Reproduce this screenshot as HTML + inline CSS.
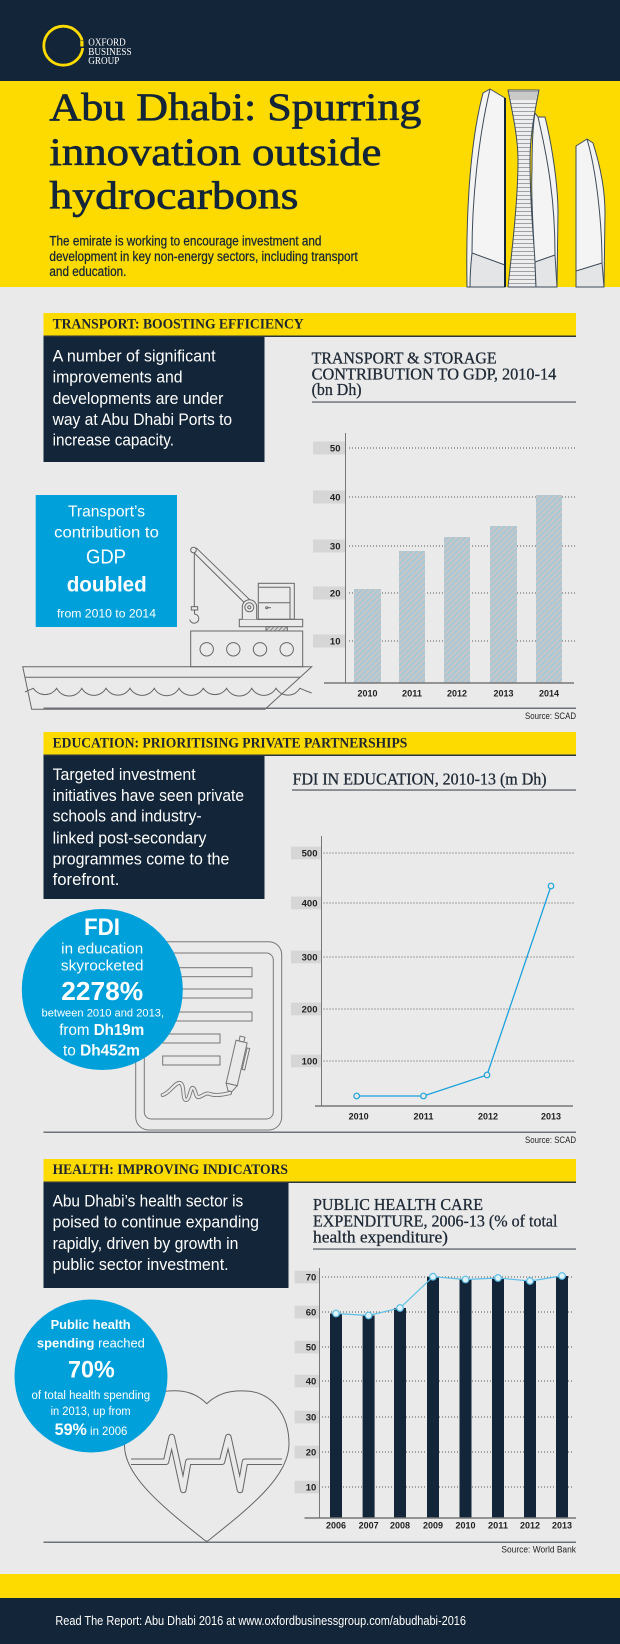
<!DOCTYPE html>
<html><head><meta charset="utf-8"><style>
html,body{margin:0;padding:0;background:#eaeaea;}
svg{display:block;}
</style></head><body>
<svg width="620" height="1644" viewBox="0 0 620 1644" xmlns="http://www.w3.org/2000/svg">
<defs>
<pattern id="hatch" width="4" height="4" patternUnits="userSpaceOnUse" patternTransform="rotate(45)">
<rect width="4" height="4" fill="#c3c7ca"/>
<line x1="1" y1="0" x2="1" y2="4" stroke="#8fc8e0" stroke-width="0.9"/>
</pattern>
<pattern id="ladder" width="10" height="4" patternUnits="userSpaceOnUse">
<rect width="10" height="4" fill="#ededed"/>
<line x1="0" y1="3.5" x2="10" y2="3.5" stroke="#8a9096" stroke-width="0.8"/>
</pattern>
<pattern id="dhatch" width="3" height="3" patternUnits="userSpaceOnUse" patternTransform="rotate(45)">
<rect width="3" height="3" fill="#d8d8d8"/>
<line x1="1" y1="0" x2="1" y2="3" stroke="#777" stroke-width="0.8"/>
</pattern>
</defs>
<rect width="620" height="1644" fill="#eaeaea"/>

<!-- HEADER -->
<rect x="0" y="0" width="620" height="81" fill="#132538"/>
<rect x="0" y="81" width="620" height="206" fill="#fedb00"/>
<circle cx="63.3" cy="45.7" r="19.5" fill="none" stroke="#fedb00" stroke-width="2.8"/>
<rect x="81" y="40" width="5" height="8" fill="#132538"/>
<rect x="80.3" y="40.5" width="3.2" height="6" fill="#fedb00"/>
<g font-family="Liberation Serif, serif" font-size="10" fill="#ffffff">
<text x="88.3" y="45.7" textLength="37.4" lengthAdjust="spacingAndGlyphs">OXFORD</text>
<text x="88.3" y="55" textLength="43.3" lengthAdjust="spacingAndGlyphs">BUSINESS</text>
<text x="88.3" y="64.1" textLength="31" lengthAdjust="spacingAndGlyphs">GROUP</text>
</g>
<g font-family="Liberation Serif, serif" font-size="39" fill="#132538" stroke="#132538" stroke-width="0.7">
<text x="49.4" y="120" textLength="372" lengthAdjust="spacingAndGlyphs">Abu Dhabi: Spurring</text>
<text x="49.4" y="165" textLength="332" lengthAdjust="spacingAndGlyphs">innovation outside</text>
<text x="49.4" y="208.3" textLength="249" lengthAdjust="spacingAndGlyphs">hydrocarbons</text>
</g>
<g font-family="Liberation Sans, sans-serif" font-size="13.5" fill="#132538" stroke="#132538" stroke-width="0.25">
<text x="49.4" y="245.7" textLength="272" lengthAdjust="spacingAndGlyphs">The emirate is working to encourage investment and</text>
<text x="49.4" y="261" textLength="308.4" lengthAdjust="spacingAndGlyphs">development in key non-energy sectors, including transport</text>
<text x="49.4" y="276" textLength="77" lengthAdjust="spacingAndGlyphs">and education.</text>
</g>

<!-- Towers -->
<g stroke="#3d4b59" stroke-width="1" stroke-linejoin="round">
<path d="M483,93 L490,89 L505,98 L505,287 L467,287 C466,230 468,150 483,93 Z" fill="#f4f4f4"/>
<path d="M472,253 L505,265 L505,287 L470,287 C470,275 471,262 472,253 Z" fill="#e4e5e7"/>
<path d="M490,89 C478,140 472,200 472,253" fill="none"/>
<line x1="505" y1="98" x2="505" y2="287" stroke="#132538" stroke-width="2"/>
<path d="M508,90 L539,90 C533,120 530,140 530,160 C530,200 534,250 538,287 L508,287 C512,250 518,200 518,160 C518,140 514,120 508,90 Z" fill="url(#ladder)"/>
<path d="M509,92 L538,92 L536,100 L511,100 Z" fill="#c9c9c9" stroke="none"/>
<path d="M535,113 L538,117 L545,117 C552,145 558,185 558,213 L557,287 L536,287 L535,262 C533,230 531,190 532,170 C532,150 533,125 535,113 Z" fill="#f4f4f4"/>
<path d="M535,262 L555,255 L557,287 L536,287 Z" fill="#e4e5e7"/>
<path d="M538,117 C548,160 555,200 555,255" fill="none"/>
<path d="M576,146 L587,139 L593,143 C600,165 605,190 605,213 L604,287 L576,287 Z" fill="#f4f4f4"/>
<path d="M576,271 L602,263 L604,287 L576,287 Z" fill="#e4e5e7"/>
<path d="M587,139 C596,170 602,220 602,263" fill="none"/>
</g>

<!-- SECTION BANDS -->
<g font-family="Liberation Serif, serif" font-weight="bold" font-size="15" fill="#1d2530">
<rect x="43.5" y="313" width="532.5" height="23" fill="#fedb00"/>
<rect x="43.5" y="335.5" width="532.5" height="1.5" fill="#2b3440"/>
<text x="52.6" y="328.5" textLength="251" lengthAdjust="spacingAndGlyphs">TRANSPORT: BOOSTING EFFICIENCY</text>
<rect x="43.5" y="732" width="532.5" height="23" fill="#fedb00"/>
<rect x="43.5" y="754.5" width="532.5" height="1.5" fill="#2b3440"/>
<text x="52.6" y="747.5" textLength="354.7" lengthAdjust="spacingAndGlyphs">EDUCATION: PRIORITISING PRIVATE PARTNERSHIPS</text>
<rect x="43.5" y="1159" width="532.5" height="23" fill="#fedb00"/>
<rect x="43.5" y="1181.5" width="532.5" height="1.5" fill="#2b3440"/>
<text x="52.6" y="1174" textLength="235.3" lengthAdjust="spacingAndGlyphs">HEALTH: IMPROVING INDICATORS</text>
</g>

<!-- DARK BOXES -->
<rect x="43.5" y="337" width="221" height="125" fill="#132538"/>
<rect x="43.5" y="756" width="221" height="143" fill="#132538"/>
<rect x="43.5" y="1183" width="245" height="105" fill="#132538"/>
<g font-family="Liberation Sans, sans-serif" font-size="17" fill="#ffffff">
<text x="52.6" y="361.7" textLength="163" lengthAdjust="spacingAndGlyphs">A number of significant</text>
<text x="52.6" y="382.7" textLength="130" lengthAdjust="spacingAndGlyphs">improvements and</text>
<text x="52.6" y="404" textLength="170.8" lengthAdjust="spacingAndGlyphs">developments are under</text>
<text x="52.6" y="425" textLength="179.5" lengthAdjust="spacingAndGlyphs">way at Abu Dhabi Ports to</text>
<text x="52.6" y="445.7" textLength="121.4" lengthAdjust="spacingAndGlyphs">increase capacity.</text>

<text x="52.6" y="780" textLength="143.1" lengthAdjust="spacingAndGlyphs">Targeted investment</text>
<text x="52.6" y="801" textLength="191.4" lengthAdjust="spacingAndGlyphs">initiatives have seen private</text>
<text x="52.6" y="821.7" textLength="149" lengthAdjust="spacingAndGlyphs">schools and industry-</text>
<text x="52.6" y="843.3" textLength="153.8" lengthAdjust="spacingAndGlyphs">linked post-secondary</text>
<text x="52.6" y="864.3" textLength="176.7" lengthAdjust="spacingAndGlyphs">programmes come to the</text>
<text x="52.6" y="885" textLength="66.8" lengthAdjust="spacingAndGlyphs">forefront.</text>

<text x="52.6" y="1206.7" textLength="190.6" lengthAdjust="spacingAndGlyphs">Abu Dhabi’s health sector is</text>
<text x="52.6" y="1227.7" textLength="206.4" lengthAdjust="spacingAndGlyphs">poised to continue expanding</text>
<text x="52.6" y="1249" textLength="185.8" lengthAdjust="spacingAndGlyphs">rapidly, driven by growth in</text>
<text x="52.6" y="1270" textLength="176" lengthAdjust="spacingAndGlyphs">public sector investment.</text>
</g>

<!-- CHART TITLES -->
<g font-family="Liberation Serif, serif" font-size="17" fill="#1f2a36" stroke="#1f2a36" stroke-width="0.3">
<text x="311.6" y="363.3" textLength="185" lengthAdjust="spacingAndGlyphs">TRANSPORT &amp; STORAGE</text>
<text x="311.6" y="379.3" textLength="244.7" lengthAdjust="spacingAndGlyphs">CONTRIBUTION TO GDP, 2010-14</text>
<text x="311.6" y="395" textLength="50" lengthAdjust="spacingAndGlyphs">(bn Dh)</text>
<text x="292.6" y="784.3" textLength="254" lengthAdjust="spacingAndGlyphs">FDI IN EDUCATION, 2010-13 (m Dh)</text>
<text x="313" y="1210" textLength="170" lengthAdjust="spacingAndGlyphs">PUBLIC HEALTH CARE</text>
<text x="313" y="1226.7" textLength="244.5" lengthAdjust="spacingAndGlyphs">EXPENDITURE, 2006-13 (% of total</text>
<text x="313" y="1242.7" textLength="135" lengthAdjust="spacingAndGlyphs">health expenditure)</text>
</g>
<rect x="312" y="401.3" width="264" height="1.5" fill="#6f757b"/>
<rect x="292" y="789.3" width="284" height="1.5" fill="#6f757b"/>
<rect x="313" y="1248.3" width="263" height="1.5" fill="#6f757b"/>

<!-- TRANSPORT CHART -->
<g>
<g fill="#d6d6d6">
<rect x="313" y="441.5" width="32" height="13"/>
<rect x="313" y="490.5" width="32" height="13"/>
<rect x="313" y="539.5" width="32" height="13"/>
<rect x="313" y="586.5" width="32" height="13"/>
<rect x="313" y="634.5" width="32" height="13"/>
</g>
<g stroke="#555" stroke-width="1" stroke-dasharray="1 2">
<line x1="349" y1="448" x2="577" y2="448"/>
<line x1="349" y1="497" x2="577" y2="497"/>
<line x1="349" y1="546" x2="577" y2="546"/>
<line x1="349" y1="593" x2="577" y2="593"/>
<line x1="349" y1="641" x2="577" y2="641"/>
</g>
<g fill="url(#hatch)">
<rect x="354" y="589" width="27" height="94"/>
<rect x="399" y="551" width="26" height="132"/>
<rect x="444" y="537" width="26" height="146"/>
<rect x="490" y="526" width="27" height="157"/>
<rect x="536" y="495" width="26" height="188"/>
</g>
<line x1="345.5" y1="433" x2="345.5" y2="683" stroke="#777" stroke-width="1"/>
<line x1="324" y1="683" x2="574" y2="683" stroke="#777" stroke-width="1.5"/>
<g font-family="Liberation Sans, sans-serif" font-weight="bold" font-size="9.5" fill="#222" text-anchor="end">
<text x="340.5" y="451.4">50</text>
<text x="340.5" y="500.4">40</text>
<text x="340.5" y="549.4">30</text>
<text x="340.5" y="596.4">20</text>
<text x="340.5" y="644.4">10</text>
</g>
<g font-family="Liberation Sans, sans-serif" font-weight="bold" font-size="9.5" fill="#222" text-anchor="middle">
<text x="367.5" y="696.5" textLength="20" lengthAdjust="spacingAndGlyphs">2010</text>
<text x="412" y="696.5" textLength="20" lengthAdjust="spacingAndGlyphs">2011</text>
<text x="457" y="696.5" textLength="20" lengthAdjust="spacingAndGlyphs">2012</text>
<text x="503.5" y="696.5" textLength="20" lengthAdjust="spacingAndGlyphs">2013</text>
<text x="549" y="696.5" textLength="20" lengthAdjust="spacingAndGlyphs">2014</text>
</g>
</g>
<rect x="43.5" y="707.5" width="532.5" height="1.5" fill="#6e7378"/>
<text x="576" y="719" font-family="Liberation Sans, sans-serif" font-size="9" fill="#222" text-anchor="end" textLength="51" lengthAdjust="spacingAndGlyphs">Source: SCAD</text>

<!-- SHIP -->
<g fill="none" stroke="#666" stroke-width="1">
<path d="M22.7,666.7 L311.7,666.7 L265,709.3 L31.7,709.3 Z"/>
<line x1="25" y1="677.3" x2="300" y2="677.3"/>
<path d="M25,692 Q29,690 33.3,688.3 a14,14 0 0 0 23.4,0 a14,14 0 0 0 25,0 a14,14 0 0 0 24.3,0 a14,14 0 0 0 24,0 a14,14 0 0 0 24.3,0 a14,14 0 0 0 24.7,0 a14,14 0 0 0 24.3,0 a14,14 0 0 0 23.4,0 a14,14 0 0 0 25,0 a14,14 0 0 0 24.3,0 a14,14 0 0 0 24,0 Q306,691 311.7,693"/>
<rect x="190.7" y="631" width="112" height="35.7"/>
<circle cx="206.7" cy="649.3" r="6.7"/>
<circle cx="233.3" cy="649.3" r="6.7"/>
<circle cx="260" cy="649.3" r="6.7"/>
<circle cx="286.7" cy="649.3" r="6.7"/>
<rect x="239.3" y="619.3" width="63.4" height="7.4"/>
<rect x="266" y="626.7" width="21.3" height="4.3" fill="url(#dhatch)"/>
<rect x="258.3" y="583.3" width="36" height="36"/>
<line x1="290" y1="587.3" x2="290" y2="619.3"/>
<line x1="259" y1="587.3" x2="290" y2="587.3"/>
<line x1="259" y1="602.7" x2="290" y2="602.7"/>
<circle cx="266.7" cy="607.7" r="1"/>
<line x1="267.7" y1="607.7" x2="271" y2="607.7"/>
<line x1="191.7" y1="550.5" x2="246.7" y2="605"/>
<line x1="196.2" y1="547.8" x2="251.7" y2="601.7"/>
<circle cx="193.5" cy="550" r="2.8" fill="#eaeaea"/>
<path d="M242.3,619.3 L242.3,607 A7.2,7.2 0 0 1 256.7,607 L256.7,619.3" fill="#eaeaea"/>
<circle cx="249.3" cy="607.3" r="4.5" fill="#eaeaea"/>
<circle cx="249.3" cy="607.3" r="1.6"/>
<line x1="194.3" y1="553" x2="194.3" y2="606.7"/>
<rect x="191.3" y="606.7" width="6.4" height="3.3"/>
<path d="M194.5,610 L194.5,614 A4.6,4.6 0 1 1 189.7,619.5"/>
</g>
<rect x="35.7" y="495" width="141.3" height="132" fill="#00a0db"/>
<g font-family="Liberation Sans, sans-serif" fill="#ffffff" text-anchor="middle">
<text x="106.5" y="516.7" font-size="16" textLength="77" lengthAdjust="spacingAndGlyphs">Transport’s</text>
<text x="106.5" y="537.3" font-size="16" textLength="104.7" lengthAdjust="spacingAndGlyphs">contribution to</text>
<text x="106" y="563.3" font-size="20" textLength="40" lengthAdjust="spacingAndGlyphs">GDP</text>
<text x="106.7" y="591.7" font-size="21" font-weight="bold" textLength="80" lengthAdjust="spacingAndGlyphs">doubled</text>
<text x="106.5" y="617.7" font-size="12" textLength="99" lengthAdjust="spacingAndGlyphs">from 2010 to 2014</text>
</g>

<!-- EDUCATION CHART -->
<g>
<g fill="#d6d6d6">
<rect x="291" y="846.6" width="30.5" height="12.7"/>
<rect x="291" y="896.6" width="30.5" height="12.7"/>
<rect x="291" y="950.6" width="30.5" height="12.7"/>
<rect x="291" y="1002.6" width="30.5" height="12.7"/>
<rect x="291" y="1054.6" width="30.5" height="12.7"/>
</g>
<g stroke="#555" stroke-width="1" stroke-dasharray="1 2">
<line x1="323.5" y1="853" x2="574" y2="853"/>
<line x1="323.5" y1="903" x2="574" y2="903"/>
<line x1="323.5" y1="957" x2="574" y2="957"/>
<line x1="323.5" y1="1009" x2="574" y2="1009"/>
<line x1="323.5" y1="1061" x2="574" y2="1061"/>
</g>
<line x1="321.5" y1="836" x2="321.5" y2="1106" stroke="#777" stroke-width="1"/>
<line x1="315" y1="1106" x2="573" y2="1106" stroke="#777" stroke-width="1.5"/>
<polyline points="356.7,1096 423.5,1096 487,1075 551,886" fill="none" stroke="#1ba1dc" stroke-width="1.3"/>
<g fill="#eaeaea" stroke="#1ba1dc" stroke-width="1.2">
<circle cx="356.7" cy="1096" r="2.8"/>
<circle cx="423.5" cy="1096" r="2.8"/>
<circle cx="487" cy="1075" r="2.8"/>
<circle cx="551" cy="886" r="2.8"/>
</g>
<g font-family="Liberation Sans, sans-serif" font-weight="bold" font-size="9.5" fill="#222" text-anchor="end">
<text x="317.5" y="856.4">500</text>
<text x="317.5" y="906.4">400</text>
<text x="317.5" y="960.4">300</text>
<text x="317.5" y="1012.4">200</text>
<text x="317.5" y="1064.4">100</text>
</g>
<g font-family="Liberation Sans, sans-serif" font-weight="bold" font-size="9.5" fill="#222" text-anchor="middle">
<text x="358.6" y="1119.5" textLength="20" lengthAdjust="spacingAndGlyphs">2010</text>
<text x="423.5" y="1119.5" textLength="20" lengthAdjust="spacingAndGlyphs">2011</text>
<text x="488" y="1119.5" textLength="20" lengthAdjust="spacingAndGlyphs">2012</text>
<text x="551" y="1119.5" textLength="20" lengthAdjust="spacingAndGlyphs">2013</text>
</g>
</g>

<!-- CLIPBOARD -->
<g fill="none" stroke="#777" stroke-width="1">
<rect x="135.7" y="941.7" width="146" height="188.3" rx="13"/>
<rect x="144.3" y="953" width="129" height="166" rx="7"/>
<rect x="162.7" y="967.7" width="89.3" height="9"/>
<rect x="162.7" y="989" width="89.3" height="9"/>
<rect x="162.7" y="1012" width="89.3" height="9"/>
<rect x="162.7" y="1034" width="57.3" height="9"/>
<rect x="162.7" y="1056" width="57.3" height="9"/>
<g transform="rotate(13 236.7 1062.8)">
<rect x="231" y="1041" width="11.4" height="44" fill="#eaeaea"/>
<rect x="234" y="1036" width="5" height="5"/>
<rect x="243.5" y="1046" width="2.6" height="22"/>
<path d="M231,1085 L242.4,1085 L238.5,1092 L234.5,1092 Z" fill="#eaeaea"/>
</g>
</g>
<path d="M162.7,1095 C170,1093 175,1082 180,1083 C185,1084 182,1100 186,1100 C190,1100 190,1087 193,1088 C196,1089 195,1098 199,1097 C203,1096 206,1092 210,1094 C215,1096 222,1095 230,1093" fill="none" stroke="#777" stroke-width="4" stroke-linecap="round" stroke-linejoin="round"/>
<path d="M162.7,1095 C170,1093 175,1082 180,1083 C185,1084 182,1100 186,1100 C190,1100 190,1087 193,1088 C196,1089 195,1098 199,1097 C203,1096 206,1092 210,1094 C215,1096 222,1095 230,1093" fill="none" stroke="#eaeaea" stroke-width="2.2" stroke-linecap="round" stroke-linejoin="round"/>
<rect x="43.5" y="1131.5" width="532.5" height="1.5" fill="#6e7378"/>
<text x="576" y="1143" font-family="Liberation Sans, sans-serif" font-size="9" fill="#222" text-anchor="end" textLength="51" lengthAdjust="spacingAndGlyphs">Source: SCAD</text>

<!-- EDUCATION CIRCLE -->
<circle cx="102.3" cy="989.5" r="80.5" fill="#00a0db"/>
<g font-family="Liberation Sans, sans-serif" fill="#ffffff" text-anchor="middle">
<text x="102" y="935" font-size="24" font-weight="bold" textLength="36" lengthAdjust="spacingAndGlyphs">FDI</text>
<text x="102.2" y="953.3" font-size="15" textLength="82" lengthAdjust="spacingAndGlyphs">in education</text>
<text x="102.2" y="970.7" font-size="15" textLength="82.6" lengthAdjust="spacingAndGlyphs">skyrocketed</text>
<text x="102.2" y="1000" font-size="26" font-weight="bold" textLength="81.8" lengthAdjust="spacingAndGlyphs">2278%</text>
<text x="102.8" y="1016.7" font-size="11" textLength="122.5" lengthAdjust="spacingAndGlyphs">between 2010 and 2013,</text>
<text x="101.7" y="1035" font-size="16" textLength="85" lengthAdjust="spacingAndGlyphs">from <tspan font-weight="bold">Dh19m</tspan></text>
<text x="101.5" y="1055.7" font-size="16" textLength="77" lengthAdjust="spacingAndGlyphs">to <tspan font-weight="bold">Dh452m</tspan></text>
</g>

<!-- HEALTH CHART -->
<g>
<g fill="#d6d6d6">
<rect x="294.6" y="1270.7" width="24.9" height="12.7"/>
<rect x="294.6" y="1305.7" width="24.9" height="12.7"/>
<rect x="294.6" y="1340.7" width="24.9" height="12.7"/>
<rect x="294.6" y="1374.7" width="24.9" height="12.7"/>
<rect x="294.6" y="1410.7" width="24.9" height="12.7"/>
<rect x="294.6" y="1445.7" width="24.9" height="12.7"/>
<rect x="294.6" y="1480.7" width="24.9" height="12.7"/>
</g>
<g stroke="#555" stroke-width="1" stroke-dasharray="1 2">
<line x1="322" y1="1277" x2="572" y2="1277"/>
<line x1="322" y1="1312" x2="572" y2="1312"/>
<line x1="322" y1="1347" x2="572" y2="1347"/>
<line x1="322" y1="1381" x2="572" y2="1381"/>
<line x1="322" y1="1417" x2="572" y2="1417"/>
<line x1="322" y1="1452" x2="572" y2="1452"/>
<line x1="322" y1="1487" x2="572" y2="1487"/>
</g>
<g fill="#132538">
<rect x="330" y="1313.5" width="12" height="204.5"/>
<rect x="362.6" y="1315.5" width="12" height="202.5"/>
<rect x="394" y="1308" width="12" height="210"/>
<rect x="427" y="1276.7" width="12" height="241.3"/>
<rect x="459.5" y="1279.5" width="12" height="238.5"/>
<rect x="492" y="1278" width="12" height="240"/>
<rect x="524" y="1281" width="12" height="237"/>
<rect x="556" y="1276" width="12" height="242"/>
</g>
<line x1="319.5" y1="1268" x2="319.5" y2="1518" stroke="#777" stroke-width="1"/>
<line x1="304.5" y1="1518" x2="576" y2="1518" stroke="#777" stroke-width="1.5"/>
<polyline points="336,1313.5 368.6,1315.5 400,1308 433,1276.7 465.5,1279.5 498,1278 530,1281 562,1276" fill="none" stroke="#5bbfe8" stroke-width="1.2"/>
<g fill="#dff1fa" stroke="#5bbfe8" stroke-width="1.2">
<circle cx="336" cy="1313.5" r="3.3"/>
<circle cx="368.6" cy="1315.5" r="3.3"/>
<circle cx="400" cy="1308" r="3.3"/>
<circle cx="433" cy="1276.7" r="3.3"/>
<circle cx="465.5" cy="1279.5" r="3.3"/>
<circle cx="498" cy="1278" r="3.3"/>
<circle cx="530" cy="1281" r="3.3"/>
<circle cx="562" cy="1276" r="3.3"/>
</g>
<g font-family="Liberation Sans, sans-serif" font-weight="bold" font-size="9.5" fill="#222" text-anchor="end">
<text x="316.3" y="1280.4">70</text>
<text x="316.3" y="1315.4">60</text>
<text x="316.3" y="1350.4">50</text>
<text x="316.3" y="1384.4">40</text>
<text x="316.3" y="1420.4">30</text>
<text x="316.3" y="1455.4">20</text>
<text x="316.3" y="1490.4">10</text>
</g>
<g font-family="Liberation Sans, sans-serif" font-weight="bold" font-size="9.5" fill="#222" text-anchor="middle">
<text x="336" y="1528.5" textLength="20" lengthAdjust="spacingAndGlyphs">2006</text>
<text x="368.6" y="1528.5" textLength="20" lengthAdjust="spacingAndGlyphs">2007</text>
<text x="400" y="1528.5" textLength="20" lengthAdjust="spacingAndGlyphs">2008</text>
<text x="433" y="1528.5" textLength="20" lengthAdjust="spacingAndGlyphs">2009</text>
<text x="465.5" y="1528.5" textLength="20" lengthAdjust="spacingAndGlyphs">2010</text>
<text x="498" y="1528.5" textLength="20" lengthAdjust="spacingAndGlyphs">2011</text>
<text x="530" y="1528.5" textLength="20" lengthAdjust="spacingAndGlyphs">2012</text>
<text x="562" y="1528.5" textLength="20" lengthAdjust="spacingAndGlyphs">2013</text>
</g>
</g>

<!-- HEART -->
<path d="M206.7,1408 C195,1395 183,1393 168,1394 C143,1396 127,1418 127.5,1446 C128,1475 165,1505 206.7,1538 C248,1505 286,1475 286,1444 C286,1416 270,1395 246,1394 C231,1393 218,1396 206.7,1408 Z" fill="none" stroke="#666" stroke-width="7" stroke-linejoin="round"/>
<path d="M206.7,1408 C195,1395 183,1393 168,1394 C143,1396 127,1418 127.5,1446 C128,1475 165,1505 206.7,1538 C248,1505 286,1475 286,1444 C286,1416 270,1395 246,1394 C231,1393 218,1396 206.7,1408 Z" fill="#eaeaea" stroke="#eaeaea" stroke-width="5" stroke-linejoin="round"/>
<polyline points="131,1461.7 166,1461.7 171.7,1437 183.3,1490 188.3,1461.7 222,1461.7 228.3,1437 240,1490 245,1461.7 282,1461.7" fill="none" stroke="#666" stroke-width="6.5" stroke-linejoin="round"/>
<polyline points="131,1461.7 166,1461.7 171.7,1437 183.3,1490 188.3,1461.7 222,1461.7 228.3,1437 240,1490 245,1461.7 282,1461.7" fill="none" stroke="#eaeaea" stroke-width="4.5" stroke-linejoin="round"/>
<rect x="43.5" y="1541.5" width="532.5" height="1.5" fill="#6e7378"/>
<text x="576" y="1552.5" font-family="Liberation Sans, sans-serif" font-size="9" fill="#222" text-anchor="end" textLength="74.6" lengthAdjust="spacingAndGlyphs">Source: World Bank</text>

<!-- HEALTH CIRCLE -->
<circle cx="91" cy="1376" r="76.5" fill="#00a0db"/>
<g font-family="Liberation Sans, sans-serif" fill="#ffffff" text-anchor="middle">
<text x="90.6" y="1329" font-size="13" font-weight="bold" textLength="80" lengthAdjust="spacingAndGlyphs">Public health</text>
<text x="90.9" y="1347.3" font-size="13" textLength="108" lengthAdjust="spacingAndGlyphs"><tspan font-weight="bold">spending</tspan> reached</text>
<text x="91.4" y="1377.3" font-size="24" font-weight="bold" textLength="46.7" lengthAdjust="spacingAndGlyphs">70%</text>
<text x="90.8" y="1399" font-size="11.5" textLength="118.6" lengthAdjust="spacingAndGlyphs">of total health spending</text>
<text x="90.6" y="1415" font-size="11.5" textLength="80" lengthAdjust="spacingAndGlyphs">in 2013, up from</text>
<text x="91" y="1435" font-size="12" textLength="72.7" lengthAdjust="spacingAndGlyphs"><tspan font-size="17" font-weight="bold">59%</tspan> in 2006</text>
</g>

<!-- FOOTER -->
<rect x="0" y="1574" width="620" height="24" fill="#fedb00"/>
<rect x="0" y="1598" width="620" height="46" fill="#132538"/>
<text x="55.4" y="1625" font-family="Liberation Sans, sans-serif" font-size="12.5" fill="#ffffff" textLength="410.6" lengthAdjust="spacingAndGlyphs">Read The Report: Abu Dhabi 2016 at www.oxfordbusinessgroup.com/abudhabi-2016</text>
</svg>
</body></html>
